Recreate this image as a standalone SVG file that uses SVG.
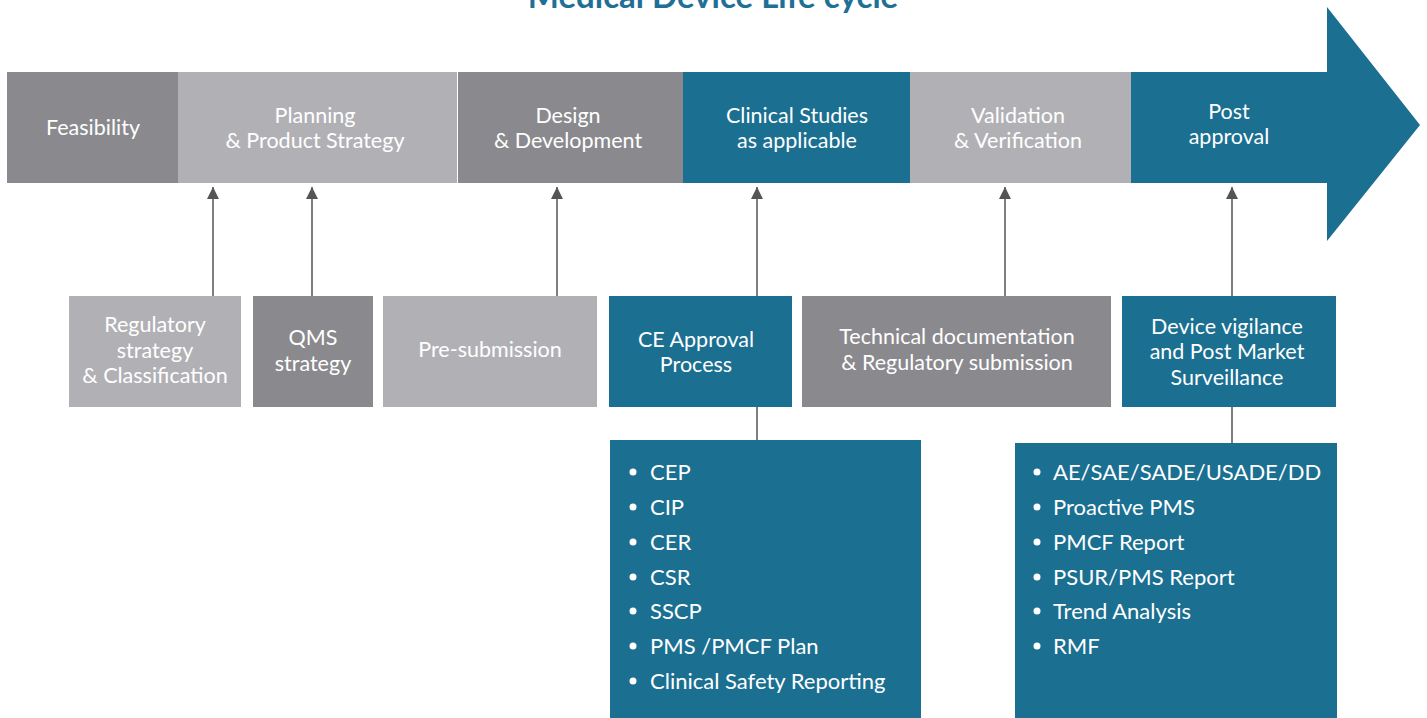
<svg xmlns="http://www.w3.org/2000/svg" width="1427" height="718" viewBox="0 0 1427 718">
<defs>
<style>
.t{font-family:Lato,"Open Sans","Liberation Sans",sans-serif;font-size:21.5px;fill:#fff;text-anchor:middle}
.l{font-family:Lato,"Open Sans","Liberation Sans",sans-serif;font-size:22px;fill:#fff}
.dk{fill:#8a8a8e}.lt{fill:#b1b1b5}.tl{fill:#1b6f91}
.c{stroke:#555;stroke-width:1.5;fill:none}
</style>
<marker id="ah" viewBox="0 0 10 10" refX="10" refY="5" markerWidth="12" markerHeight="12" markerUnits="userSpaceOnUse" orient="auto">
<path d="M0,0 L10,5 L0,10 Z" fill="#555"/>
</marker>
</defs>
<rect width="1427" height="718" fill="#fff"/>
<text x="713" y="8" font-family="Lato,'Open Sans','Liberation Sans',sans-serif" font-size="33" font-weight="bold" fill="#1f7096" text-anchor="middle">Medical Device Life cycle</text>

<g id="stage-feasibility"><rect class="dk" x="7" y="72" width="171" height="111"/><text class="t" x="93" y="135">Feasibility</text></g>
<g id="stage-planning"><rect class="lt" x="178" y="72" width="279" height="111"/><text class="t" x="315" y="123">Planning</text><text class="t" x="315" y="148">&amp; Product Strategy</text></g>
<g id="stage-design"><rect class="dk" x="458" y="72" width="225" height="111"/><text class="t" x="568" y="123">Design</text><text class="t" x="568" y="148">&amp; Development</text></g>
<g id="stage-clinical"><rect class="tl" x="683" y="72" width="227" height="111"/><text class="t" x="797" y="123">Clinical Studies</text><text class="t" x="797" y="148">as applicable</text></g>
<g id="stage-validation"><rect class="lt" x="910" y="72" width="221" height="111"/><text class="t" x="1018" y="123">Validation</text><text class="t" x="1018" y="148">&amp; Verification</text></g>
<g id="stage-post"><path class="tl" d="M1131,72 H1327 V7 L1420,125 L1327,241 V183 H1131 Z"/><text class="t" x="1229" y="119">Post</text><text class="t" x="1229" y="144">approval</text></g>

<g id="connectors">
<line class="c" x1="213" y1="296" x2="213" y2="187" marker-end="url(#ah)"/>
<line class="c" x1="312" y1="296" x2="312" y2="187" marker-end="url(#ah)"/>
<line class="c" x1="557" y1="296" x2="557" y2="187" marker-end="url(#ah)"/>
<line class="c" x1="757" y1="296" x2="757" y2="187" marker-end="url(#ah)"/>
<line class="c" x1="1005" y1="296" x2="1005" y2="187" marker-end="url(#ah)"/>
<line class="c" x1="1232" y1="296" x2="1232" y2="187" marker-end="url(#ah)"/>
<line class="c" x1="757" y1="407" x2="757" y2="440"/>
<line class="c" x1="1232" y1="407" x2="1232" y2="443"/>
</g>

<g id="regulatory"><rect class="lt" x="69" y="296" width="172" height="111"/><text class="t" x="155" y="332">Regulatory</text><text class="t" x="155" y="358">strategy</text><text class="t" x="155" y="383">&amp; Classification</text></g>
<g id="qms"><rect class="dk" x="253" y="296" width="120" height="111"/><text class="t" x="313" y="345">QMS</text><text class="t" x="313" y="371">strategy</text></g>
<g id="presub"><rect class="lt" x="383" y="296" width="214" height="111"/><text class="t" x="490" y="357">Pre-submission</text></g>
<g id="ce"><rect class="tl" x="609" y="296" width="183" height="111"/><text class="t" x="696" y="347">CE Approval</text><text class="t" x="696" y="372">Process</text></g>
<g id="techdoc"><rect class="dk" x="802" y="296" width="309" height="111"/><text class="t" x="957" y="344">Technical documentation</text><text class="t" x="957" y="370">&amp; Regulatory submission</text></g>
<g id="vigilance"><rect class="tl" x="1122" y="296" width="214" height="111"/><text class="t" x="1227" y="334">Device vigilance</text><text class="t" x="1227" y="359">and Post Market</text><text class="t" x="1227" y="385">Surveillance</text></g>

<g id="ce-list"><rect class="tl" x="610" y="440" width="311" height="278"/>
<g fill="#fff"><circle cx="633" cy="472" r="3.5"/><circle cx="633" cy="507" r="3.5"/><circle cx="633" cy="542" r="3.5"/><circle cx="633" cy="577" r="3.5"/><circle cx="633" cy="611" r="3.5"/><circle cx="633" cy="646" r="3.5"/><circle cx="633" cy="681" r="3.5"/></g>
<text class="l" x="650" y="480">CEP</text><text class="l" x="650" y="515">CIP</text><text class="l" x="650" y="550">CER</text><text class="l" x="650" y="585">CSR</text><text class="l" x="650" y="619">SSCP</text><text class="l" x="650" y="654">PMS /PMCF Plan</text><text class="l" x="650" y="689">Clinical Safety Reporting</text>
</g>
<g id="pms-list"><rect class="tl" x="1015" y="443" width="322" height="275"/>
<g fill="#fff"><circle cx="1037" cy="472" r="3.5"/><circle cx="1037" cy="507" r="3.5"/><circle cx="1037" cy="542" r="3.5"/><circle cx="1037" cy="577" r="3.5"/><circle cx="1037" cy="611" r="3.5"/><circle cx="1037" cy="646" r="3.5"/></g>
<text class="l" x="1053" y="480">AE/SAE/SADE/USADE/DD</text><text class="l" x="1053" y="515">Proactive PMS</text><text class="l" x="1053" y="550">PMCF Report</text><text class="l" x="1053" y="585">PSUR/PMS Report</text><text class="l" x="1053" y="619">Trend Analysis</text><text class="l" x="1053" y="654">RMF</text>
</g>
</svg>
